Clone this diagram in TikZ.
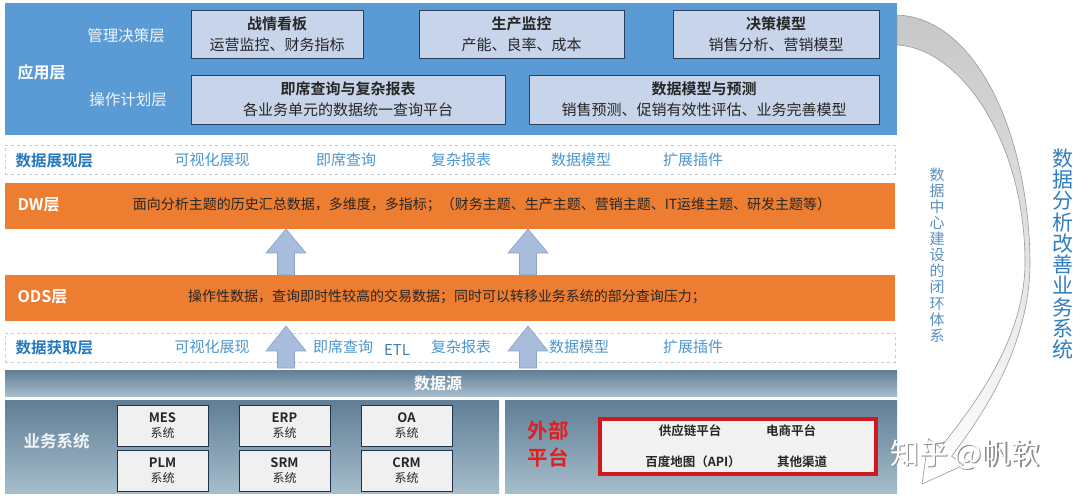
\documentclass[tikz,border=0pt]{standalone}
\usepackage{fontspec}
\setmainfont{Noto Sans CJK SC}[BoldFont={Noto Sans CJK SC Bold}]
\usetikzlibrary{calc}
\definecolor{appblue}{HTML}{5B9BD5}
\definecolor{appbox}{HTML}{C7D4E9}
\definecolor{appborder}{HTML}{2B3F5C}
\definecolor{orangebar}{HTML}{ED7D31}
\definecolor{rowlabel}{HTML}{2378BE}
\definecolor{rowitem}{HTML}{4D96CF}
\definecolor{dashgray}{HTML}{C5CDD5}
\definecolor{steeltop}{HTML}{5F7E95}
\definecolor{steelbot}{HTML}{A6BDCC}
\definecolor{arrowfill}{HTML}{A8BDDC}
\definecolor{arrowline}{HTML}{8AA3C8}
\definecolor{extred}{HTML}{E02020}
\definecolor{redbox}{HTML}{D0181E}
\definecolor{arcgray}{HTML}{C6C6C6}
\definecolor{vtext}{HTML}{5A8FC2}
\definecolor{vtextbig}{HTML}{2F7EC1}
\definecolor{darktext}{HTML}{262626}
\begin{document}
\begin{tikzpicture}[x=1pt,y=-1pt,
  panel/.style={anchor=north west, inner sep=0pt, outer sep=0pt},
  appcard/.style={panel, fill=appbox, draw=appborder, line width=0.9pt, align=center,
    text=darktext, font=\fontsize{15}{21}\selectfont},
  sublabel/.style={text=white!90!appblue, font=\fontsize{15.5}{18}\selectfont},
  rowbox/.style={panel, fill=white, draw=dashgray, dashed, line width=0.6pt, minimum width=890pt, minimum height=29pt},
  rowlab/.style={anchor=west, text=rowlabel, font=\bfseries\fontsize{15.5}{18}\selectfont},
  rowtxt/.style={text=rowitem, font=\fontsize{15}{18}\selectfont},
  orange/.style={panel, fill=orangebar, minimum width=890pt, minimum height=46pt},
  orangelab/.style={anchor=west, text=white, font=\bfseries\fontsize{16}{18}\selectfont},
  orangetxt/.style={text=darktext, font=\fontsize{14}{17}\selectfont},
  steel/.style={panel, top color=steeltop, bottom color=steelbot},
  syscard/.style={panel, fill=black!6, draw=appborder!80!black, line width=0.8pt, align=center,
    minimum width=91pt, minimum height=41pt, text=darktext, font=\fontsize{12}{15}\selectfont},
  blockarrow/.style={fill=arrowfill, draw=arrowline, line width=0.6pt},
  extitem/.style={text=darktext, font=\bfseries\fontsize{12.5}{15}\selectfont},
  wm/.style={font=\fontsize{29}{32}\selectfont}
]
\useasboundingbox (0,0) rectangle (1080,497);
\fill[white] (0,0) rectangle (1080,497);

% ---------------- application layer
\node[panel, fill=appblue, minimum width=892pt, minimum height=132pt] (app) at (5,3) {};
\node[anchor=west, text=white, font=\bfseries\fontsize{16}{18}\selectfont] (applab) at (14,72) {应用层};
\node[sublabel] (mgmt) at (126,36) {管理决策层};
\node[sublabel] (oper) at (128,100) {操作计划层};

\node[appcard, minimum width=172pt, minimum height=48pt] (b1) at (191,10)
  {{\bfseries 战情看板}\\运营监控、财务指标};
\node[appcard, minimum width=205pt, minimum height=48pt] (b2) at (419,10)
  {{\bfseries 生产监控}\\产能、良率、成本};
\node[appcard, minimum width=206pt, minimum height=48pt] (b3) at (673,10)
  {{\bfseries 决策模型}\\销售分析、营销模型};
\node[appcard, minimum width=314pt, minimum height=49pt] (b4) at (191,75)
  {{\bfseries 即席查询与复杂报表}\\各业务单元的数据统一查询平台};
\node[appcard, minimum width=350pt, minimum height=49pt] (b5) at (529,75)
  {{\bfseries 数据模型与预测}\\销售预测、促销有效性评估、业务完善模型};

% ---------------- presentation row
\node[rowbox] (pres) at (5,145) {};
\node[rowlab] (preslab) at (12,161) {数据展现层};
\node[rowtxt] (p1) at (212,160) {可视化展现};
\node[rowtxt] (p2) at (346,160) {即席查询};
\node[rowtxt] (p3) at (461,160) {复杂报表};
\node[rowtxt] (p4) at (581,160) {数据模型};
\node[rowtxt] (p5) at (693,160) {扩展插件};

% ---------------- DW
\node[orange] (dw) at (5,183) {};
\node[orangelab] (dwlab) at (14,205) {DW层};
\node[orangetxt] (dwtxt) at (482,205) {面向分析主题的历史汇总数据，多维度，多指标；（财务主题、生产主题、营销主题、IT运维主题、研发主题等）};

% ---------------- ODS
\node[orange] (ods) at (5,275) {};
\node[orangelab] (odslab) at (14,297) {ODS层};
\node[orangetxt] (odstxt) at (447,297) {操作性数据，查询即时性较高的交易数据；同时可以转移业务系统的部分查询压力；};

% ---------------- acquisition row
\node[rowbox] (acq) at (5,333) {};
\node[rowlab] (acqlab) at (12,348) {数据获取层};
\node[rowtxt] (q1) at (212,347) {可视化展现};
\node[rowtxt] (q2) at (343,347) {即席查询};
\node[rowtxt] (q3) at (461,347) {复杂报表};
\node[rowtxt] (q4) at (579,347) {数据模型};
\node[rowtxt] (q5) at (693,347) {扩展插件};
\node[text=rowitem!85!black, font=\fontsize{15}{17}\selectfont] (etl) at (397,350) {ETL};

% ---------------- block arrows
\coordinate (xa) at (286,0);
\coordinate (xb) at (528,0);
\foreach \c in {xa,xb}{
  \path[blockarrow] (dw.south -| \c) -- ++(20,24) -- ++(-11.5,0)
     |- ($(ods.north -| \c)+(-8.5,0)$) -- ($(dw.south -| \c)+(-8.5,24)$) -- ++(-11.5,0) -- cycle;
  \path[blockarrow] ($(ods.south -| \c)+(0,5)$) -- ++(20,25) -- ++(-11.5,0)
     |- ($(acq.south -| \c)+(-8.5,6)$) -- ($(ods.south -| \c)+(-8.5,30)$) -- ++(-11.5,0) -- cycle;
}

% ---------------- data source
\node[steel, minimum width=892pt, minimum height=26pt] (src) at (5,370) {};
\node[text=white, font=\bfseries\fontsize{16}{18}\selectfont] (srclab) at (438,383) {数据源};

\node[steel, minimum width=494pt, minimum height=93pt] (biz) at (5,400) {};
\node[anchor=west, text=white!92!steeltop, font=\bfseries\fontsize{16.5}{18}\selectfont] (bizlab) at (20,441) {业务系统};
\node[syscard] (mes) at (117,405) {{\bfseries\fontsize{13}{15}\selectfont MES}\\系统};
\node[syscard] (erp) at (239,405) {{\bfseries\fontsize{13}{15}\selectfont ERP}\\系统};
\node[syscard] (oa)  at (361,405) {{\bfseries\fontsize{13}{15}\selectfont OA}\\系统};
\node[syscard] (plm) at (117,450) {{\bfseries\fontsize{13}{15}\selectfont PLM}\\系统};
\node[syscard] (srm) at (239,450) {{\bfseries\fontsize{13}{15}\selectfont SRM}\\系统};
\node[syscard] (crm) at (361,450) {{\bfseries\fontsize{13}{15}\selectfont CRM}\\系统};

\node[steel, minimum width=392pt, minimum height=93pt] (ext) at (505,400) {};
\node[text=extred, align=center, font=\bfseries\fontsize{20.5}{27}\selectfont] (extlab) at (548,444) {外部\\平台};
\node[panel, fill=black!5, draw=redbox, line width=3.5pt, minimum width=276pt, minimum height=55pt] (redb) at (600,419) {};
\node[extitem] (e1) at (690,431) {供应链平台};
\node[extitem] (e2) at (791,431) {电商平台};
\node[extitem] (e3) at (693,462) {百度地图（API）};
\node[extitem] (e4) at (802,462) {其他渠道};

% ---------------- closing-loop arc
\path[draw=black!40, line width=0.6pt, top color=arcgray, middle color=arcgray!60, bottom color=white]
  (app.north east) ++(0,12)
  .. controls (975,18) and (1028,130) .. (1030,260)
  .. controls (1031,350) and (975,425) .. (951.6,456.2)
  -- (963.6,465.2) -- (922,484) -- (928.4,438.8) -- (940.4,447.8)
  .. controls (963,418) and (1026,345) .. (1025,260)
  .. controls (1024,140) and (960,48) .. (897,45) -- cycle;

\node[text=vtext, align=center, font=\fontsize{15}{16.1}\selectfont] (loop) at (937,255)
  {数\\据\\中\\心\\建\\设\\的\\闭\\环\\体\\系};
\node[text=vtextbig, align=center, font=\fontsize{21}{21.3}\selectfont] (improve) at (1063,254)
  {数\\据\\分\\析\\改\\善\\业\\务\\系\\统};

% ---------------- watermark
\node[wm, text=black!45] at (966.2,456.2) {知乎 @帆软};
\node[wm, text=white] (wmark) at (965,455) {知乎 @帆软};
\end{tikzpicture}
\end{document}
